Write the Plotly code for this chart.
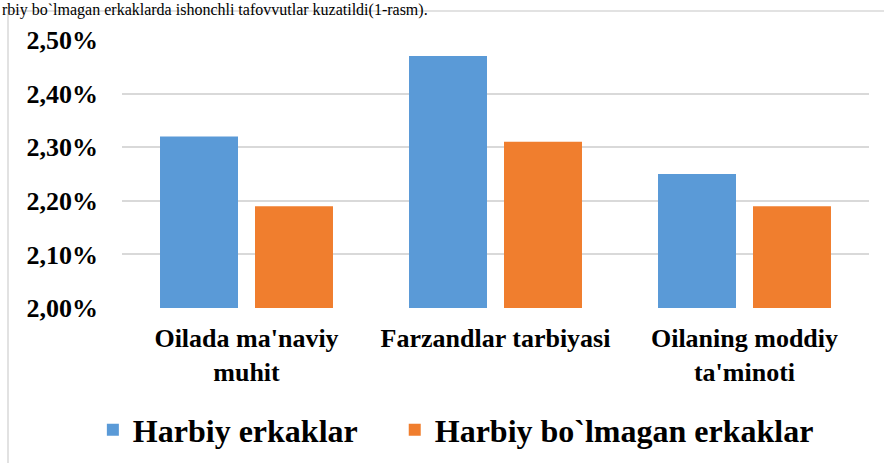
import plotly.graph_objects as go

categories = ["Oilada ma'naviy<br>muhit", "Farzandlar tarbiyasi", "Oilaning moddiy<br>ta'minoti"]
series_names = ["Harbiy erkaklar", "Harbiy bo`lmagan erkaklar"]
harbiy = [2.32, 2.47, 2.25]
harbiy_emas = [2.19, 2.31, 2.19]
y_ticks = [2.00, 2.10, 2.20, 2.30, 2.40, 2.50]
y_tick_labels = ["2,00%", "2,10%", "2,20%", "2,30%", "2,40%", "2,50%"]
caption = "rbiy bo`lmagan erkaklarda ishonchli tafovvutlar kuzatildi(1-rasm)."

FONT = "Liberation Serif"
PAD = "\u00a0" * 4  # extra spacing after the first legend entry

fig = go.Figure()
fig.add_trace(go.Bar(x=categories, y=harbiy, name=series_names[0] + PAD,
                     marker=dict(color="#5a9ad7", line=dict(width=0))))
fig.add_trace(go.Bar(x=categories, y=harbiy_emas, name=series_names[1],
                     marker=dict(color="#f07e2e", line=dict(width=0))))

fig.update_layout(
    width=884, height=463,
    margin=dict(l=122, r=15, t=40, b=155, autoexpand=False),
    paper_bgcolor="white", plot_bgcolor="white",
    barmode="group", bargap=0.237, bargroupgap=0.179,
    font=dict(family=FONT, color="black"),
    showlegend=True,
    legend=dict(orientation="h", x=-0.039, xanchor="left", y=-0.455, yanchor="middle",
                font=dict(family=FONT, size=32, color="black", weight="bold"),
                itemwidth=30, tracegroupgap=0, bgcolor="rgba(0,0,0,0)"),
    xaxis=dict(showgrid=False, showline=False, ticks="", zeroline=False, automargin=False,
               tickfont=dict(family=FONT, size=26, color="black", weight="bold"),
               ticklabelstandoff=12),
    yaxis=dict(range=[2.0, 2.5], tickvals=y_ticks, ticktext=y_tick_labels, automargin=False,
               showgrid=True, gridcolor="#d9d9d9", gridwidth=1.5, zeroline=False,
               showline=False, ticks="",
               tickfont=dict(family=FONT, size=26, color="black", weight="bold"),
               ticklabelstandoff=23),
)

# surrounding chart frame (light gray border)
fig.add_shape(type="rect", xref="paper", yref="paper",
              x0=-0.1526, x1=1.04, y0=-0.62, y1=1.108,
              line=dict(color="#d9d9d9", width=1.5), fillcolor="rgba(0,0,0,0)", layer="below")

# document text just above the chart
fig.add_annotation(text=caption, xref="paper", yref="paper", x=-0.163, y=1.152,
                   xanchor="left", yanchor="top", showarrow=False,
                   font=dict(family=FONT, size=16, color="black"))

fig.write_html("out.html", config={"displayModeBar": False},
               post_script="document.body.style.margin='0px';")
